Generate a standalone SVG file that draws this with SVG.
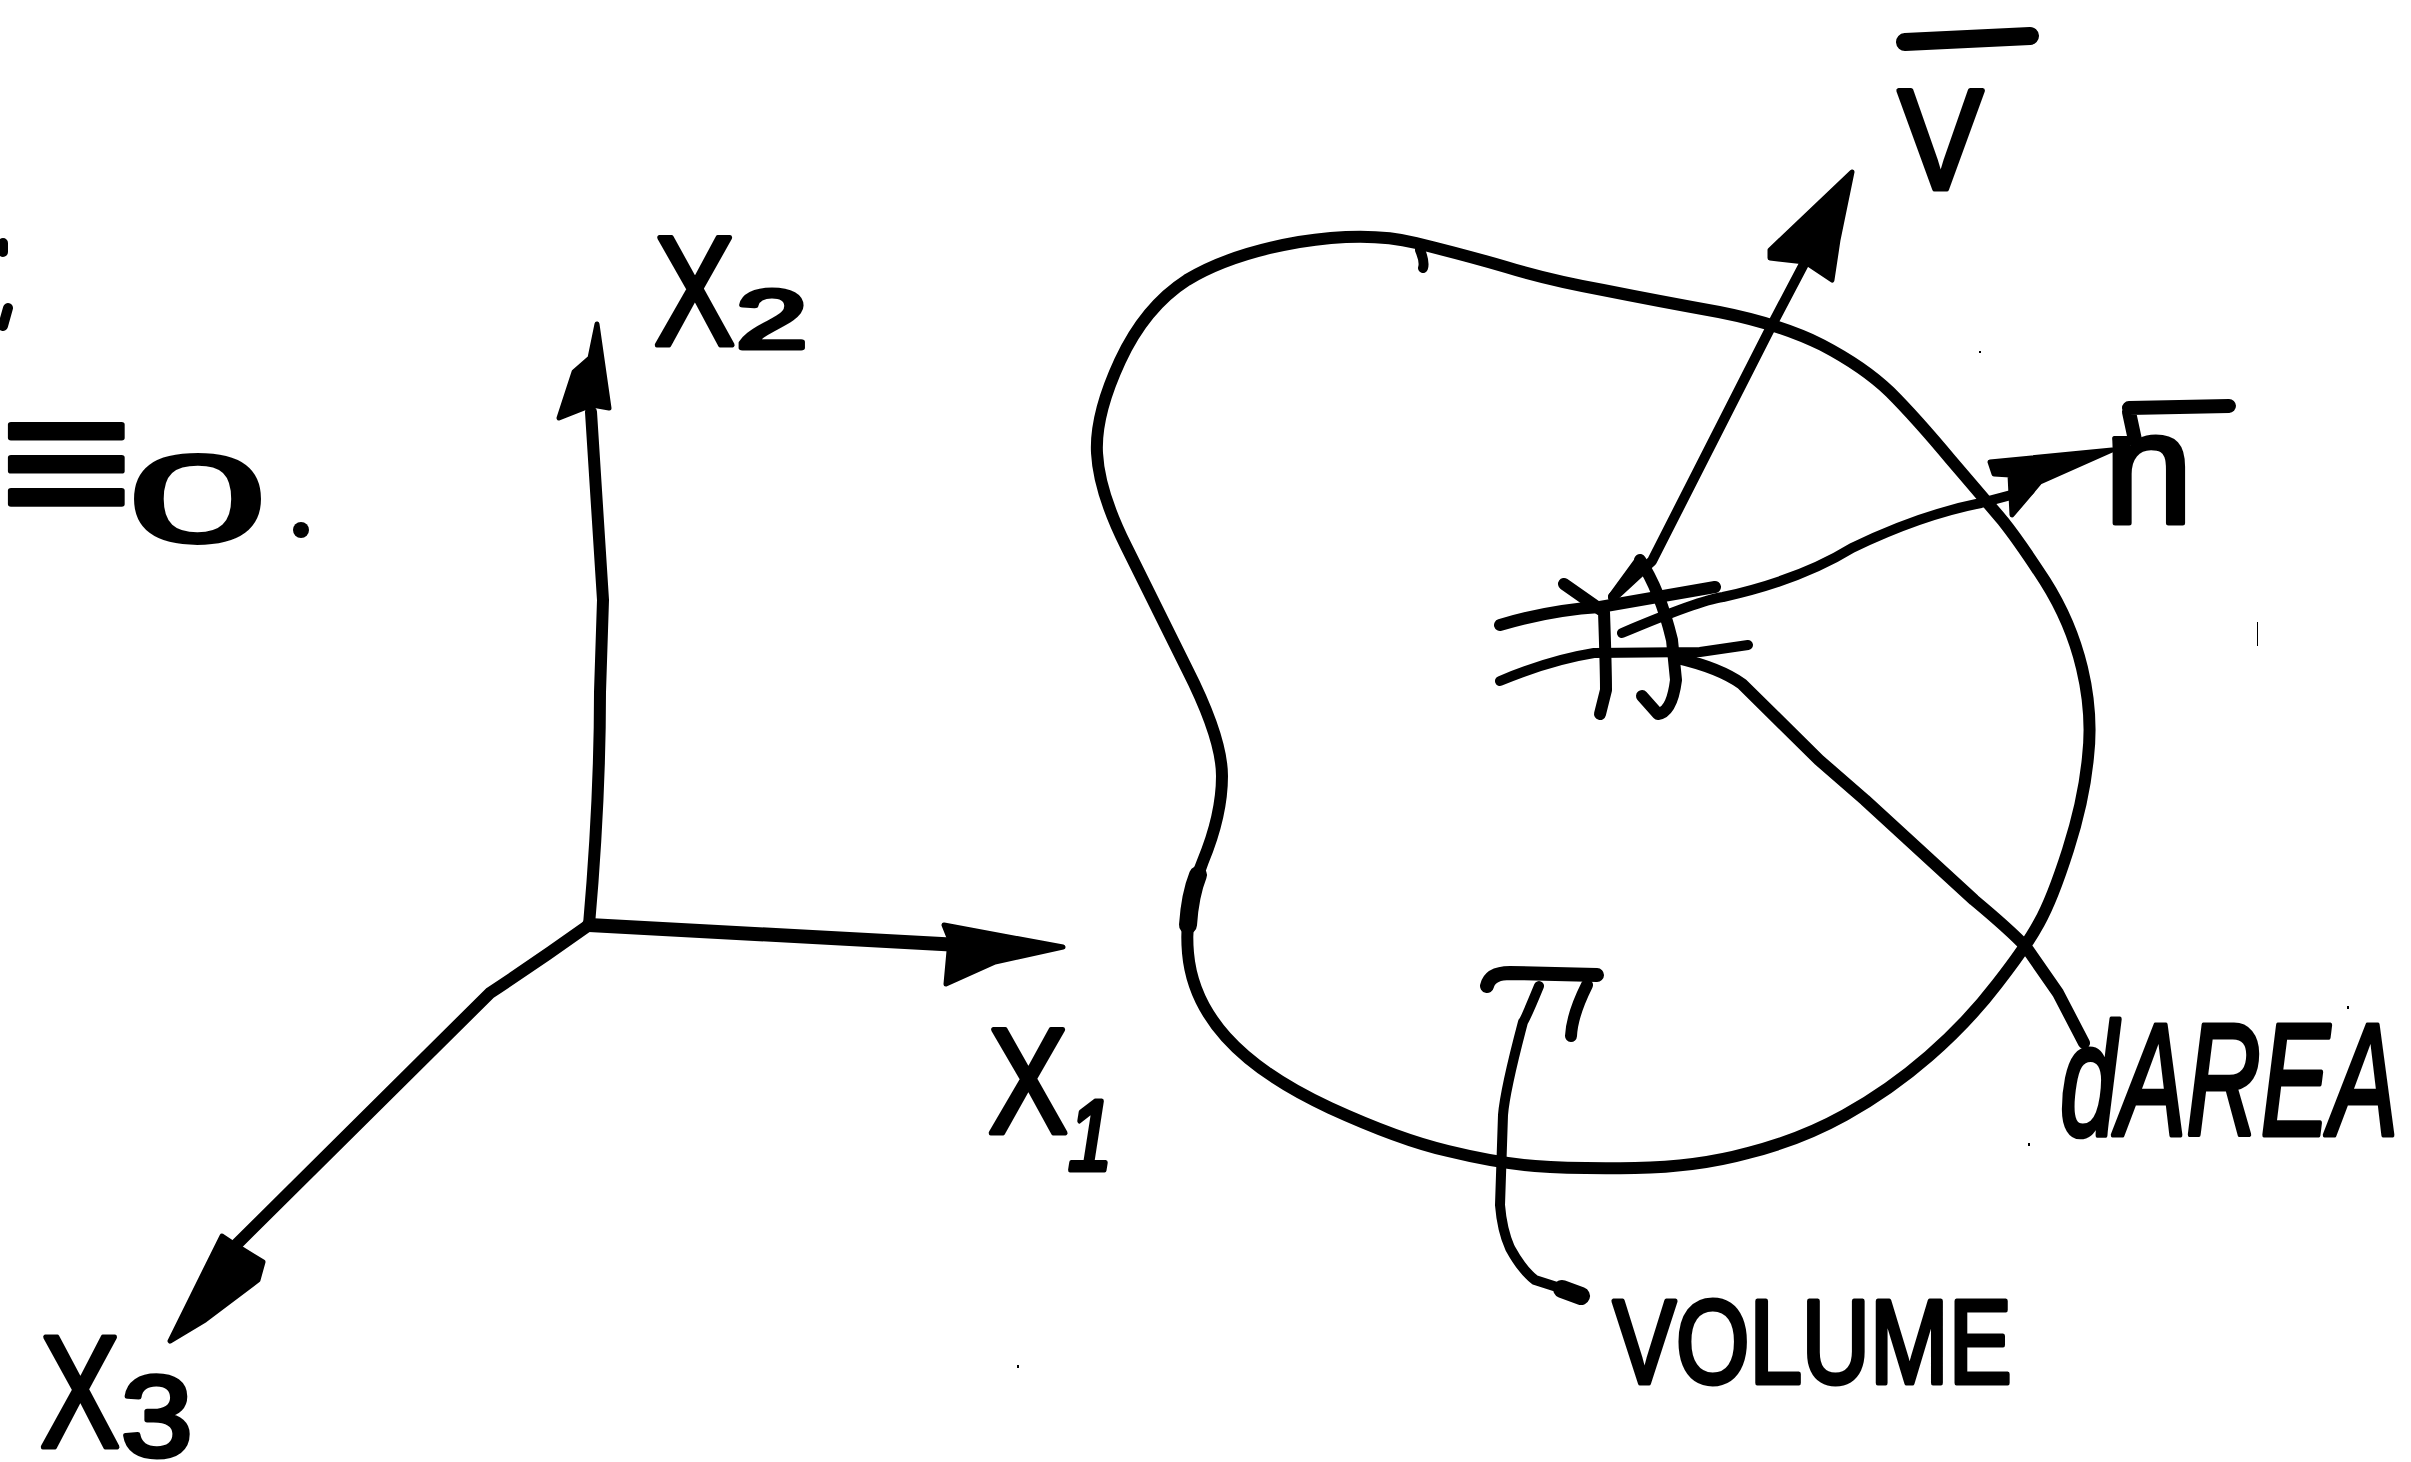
<svg xmlns="http://www.w3.org/2000/svg" width="2411" height="1462" viewBox="0 0 2411 1462">
<style>
.l{fill:none;stroke:#000;stroke-linecap:round;stroke-linejoin:round}
.w14{stroke-width:14}.w13{stroke-width:13}.w12{stroke-width:12}.w10{stroke-width:10}.w18{stroke-width:18}
.h{fill:#000;stroke:#000;stroke-width:5;stroke-linejoin:round}
text{font-family:"Liberation Sans",Arial,sans-serif;fill:#000;stroke:#000;stroke-width:5;stroke-linejoin:round}
.i{font-style:italic}
</style>
<rect width="2411" height="1462" fill="#fff"/>
<g id="connectors">
<path id="x2-axis" class="l w12" d="M589 925 Q600 800 600 692 L603 600 L591 412"/>
<polygon class="h" points="597,324 609,408 592,405 559,418 574,372 590,358"/>
<path id="x1-axis" class="l w14" d="M589 925 L960 945"/>
<polygon class="h" points="1063,947 944,925 950,940 946,984 995,962"/>
<path id="x3-axis" class="l w12" d="M589 925 Q540 960 490 993 L367 1115 L237 1244"/>
<polygon class="h" points="170,1341 222,1236 237,1246 263,1262 258,1280 205,1320"/>
<path id="v-arrow" class="l w10" d="M1613 597 L1652 561 L1774 321 L1805 262"/>
<polygon class="h" points="1852,172 1770,250 1770,258 1805,262 1832,280 1838,240"/>
<path id="n-arrow" class="l w10" d="M1622 633 Q1700 600 1723 597 Q1800 580 1852 548 Q1920 515 1981 503 L2030 490"/>
<polygon class="h" points="2112,450 1990,462 1994,474 2010,475 2012,515 2040,482"/>
<path id="darea-leader" class="l w12" d="M1677 658 Q1720 668 1742 684 L1819 760 L1865 800 L1974 900 Q2010 930 2026 947 L2058 993 L2084 1043"/>
<path id="volume-leader" class="l w10" d="M1539 986 Q1525 1020 1523 1022 Q1505 1090 1503 1115 L1500 1205 Q1502 1230 1510 1248 Q1522 1270 1535 1280 L1560 1288"/>
<path class="l w18" d="M1562 1289 L1581 1296"/>
</g>
<g id="volume-region">
<path class="l w12" d="M1416 243 Q1465 255 1506 267 Q1548 280 1603 290 Q1658 301 1719 312 Q1780 324 1822 345 Q1864 367 1890 392 Q1916 418 1951 460 Q1987 502 2003 521 Q2019 541 2045 581 Q2071 622 2082 668 Q2093 714 2088 757 Q2084 800 2068 850 Q2052 900 2039 923 Q2026 947 1997 984 Q1968 1022 1929 1056 Q1890 1090 1845 1115 Q1800 1140 1748 1153 Q1697 1167 1635 1168 Q1574 1169 1535 1166 Q1497 1163 1448 1151 Q1400 1140 1330 1108 Q1261 1076 1226 1037 Q1192 999 1188 953 Q1184 907 1203 861 Q1222 815 1222 776 Q1222 738 1187 669 Q1153 600 1126 546 Q1099 492 1097 453 Q1095 415 1120 361 Q1145 307 1187 280 Q1230 254 1299 242 Q1368 231 1416 243 Z"/>
<path class="l w18" d="M1198 875 Q1190 895 1188 925"/>
<path class="l w10" d="M1420 250 Q1425 262 1423 268"/>
</g>
<g id="area-element">
<path class="l w12" d="M1500 625 Q1550 610 1600 607 L1715 587"/>
<path class="l w10" d="M1500 681 Q1550 660 1594 653 L1700 652 L1748 645"/>
<path class="l w12" d="M1564 584 L1604 612 Q1606 670 1606 690 L1600 714"/>
<path class="l w12" d="M1640 560 Q1660 590 1672 640 L1676 680 Q1672 712 1658 714 L1642 696"/>
<path class="l w10" d="M1613 597 L1640 560"/>
</g>
<g id="marks">
<path class="l w10" d="M3 243 L3 252 M8 308 L3 326"/>
<path class="l w14" d="M1487 986 Q1490 973 1510 973 L1597 975"/>
<path class="l w12" d="M1587 985 Q1572 1015 1571 1036"/>
<rect x="1979" y="351" width="2" height="2"/><rect x="2028" y="1143" width="2" height="3"/>
<rect x="2347" y="1006" width="2" height="3"/><rect x="1017" y="1365" width="2" height="3"/>
<rect x="2257" y="622" width="1" height="24"/>
</g>
<g id="label-equiv">
<text transform="translate(0,527) scale(1.2,1)" font-size="190">≡</text>
<text transform="translate(128,542) scale(2.5,1.25)" font-size="100" style="stroke-width:3">0</text>
<circle cx="301" cy="530" r="8"/>
</g>
<g id="label-x2"><text transform="translate(654,345) scale(0.78,1)" font-size="156">X</text><text transform="translate(736,348) scale(1.55,1)" font-size="83">2</text></g>
<g id="label-x1"><text transform="translate(988,1133) scale(0.8,1)" font-size="150">X</text><text class="i" transform="translate(1068,1170) scale(0.8,1)" font-size="100">1</text></g>
<g id="label-x3"><text transform="translate(40,1447) scale(0.75,1)" font-size="160">X</text><text transform="translate(121,1456) scale(1.12,1)" font-size="115">3</text></g>
<g id="label-v"><path class="l w18" d="M1905 42 L2030 36"/><text transform="translate(1898,189) scale(0.9,1)" font-size="142">V</text></g>
<g id="label-n"><path class="l w14" d="M2129 408 L2229 406 M2129 412 L2135 440"/><text transform="translate(2104,523)" font-size="160">n</text></g>
<g id="label-darea"><text class="i" transform="translate(2060,1135) scale(0.645,1)" font-size="160">dAREA</text></g>
<g id="label-volume"><text transform="translate(1613,1383) scale(0.8,1)" font-size="118">VOLUME</text></g>
</svg>
